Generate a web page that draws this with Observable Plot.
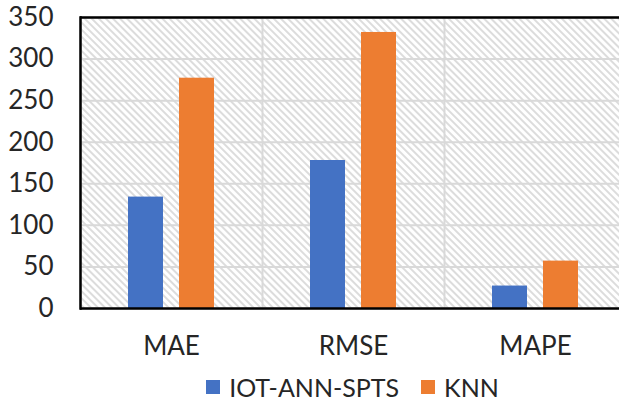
<!DOCTYPE html>
<html>
<head>
<meta charset="utf-8">
<script src="https://cdn.jsdelivr.net/npm/d3@7"></script>
<script src="https://cdn.jsdelivr.net/npm/@observablehq/plot@0.6"></script>
<style>
  html, body { margin: 0; padding: 0; background: #fff; overflow: hidden; }
  #chart { width: 626px; }
  #legend { width: 626px; box-sizing: border-box; padding-left: 79px; display: flex; justify-content: center; }
  #legend span { margin-right: 22px !important; }
  #legend span:last-child { margin-right: 0 !important; }
  #legend span > svg { margin-right: 9px !important; }
</style>
</head>
<body>
<div id="chart"></div>
<div id="legend"></div>
<script>
const categories = ["MAE", "RMSE", "MAPE"];
const seriesNames = ["IOT-ANN-SPTS", "KNN"];
const iotAnnSpts = [134, 178, 27];
const knn = [277, 332, 57];
const yTicks = [0, 50, 100, 150, 200, 250, 300, 350];
const colors = ["#4472C4", "#ED7D31"];

const data = [];
categories.forEach((c, i) => {
  data.push({category: c, series: seriesNames[0], value: iotAnnSpts[i]});
  data.push({category: c, series: seriesNames[1], value: knn[i]});
});

const font = "Lato, 'Open Sans', sans-serif";

const plot = Plot.plot({
  width: 626,
  height: 370,
  marginLeft: 79,
  marginRight: 0,
  marginTop: 17,
  marginBottom: 62,
  style: {fontFamily: font, fontSize: "26px", color: "#262626", background: "#fff"},
  fx: {domain: categories, padding: 0, label: null},
  x: {domain: seriesNames, paddingInner: 0.314, paddingOuter: 0.94, axis: null},
  y: {domain: [0, 350], label: null},
  color: {domain: seriesNames, range: colors},
  marks: [
    Plot.frame({fill: "url(#hatch)", stroke: "none"}),
    Plot.gridY(yTicks, {stroke: "#d9d9d9", strokeOpacity: 1, strokeWidth: 2}),
    Plot.frame({anchor: "left", stroke: "#d9d9d9", strokeWidth: 2}),
    Plot.barY(data, {fx: "category", x: "series", y: "value", fill: "series"}),
    Plot.frame({anchor: "left", facetAnchor: "left", stroke: "#000", strokeWidth: 2.5}),
    Plot.ruleY([0], {stroke: "#000", strokeWidth: 2.5}),
    Plot.ruleY([350], {stroke: "#000", strokeWidth: 2.5}),
    Plot.axisY(yTicks, {tickSize: 0, tickPadding: 27, fontSize: 26, fill: "#262626"}),
    Plot.axisFx({anchor: "bottom", tickSize: 0, tickPadding: 28, fontSize: 26, fill: "#262626", label: null})
  ]
});

const svg = d3.select(plot);
const defs = svg.insert("defs", ":first-child");
const pat = defs.append("pattern")
  .attr("id", "hatch")
  .attr("patternUnits", "userSpaceOnUse")
  .attr("width", 5).attr("height", 5)
  .attr("patternTransform", "rotate(-45)");
pat.append("rect").attr("width", 5).attr("height", 5).attr("fill", "#fff");
pat.append("line").attr("x1", 1).attr("y1", 0).attr("x2", 1).attr("y2", 5)
  .attr("stroke", "#dcdcdc").attr("stroke-width", 2);

document.getElementById("chart").appendChild(plot);

const legend = Plot.legend({
  color: {domain: seriesNames, range: colors},
  swatchSize: 14,
  style: {fontFamily: font, fontSize: "25px", color: "#262626", marginLeft: "0px"}
});
document.getElementById("legend").appendChild(legend);
</script>
</body>
</html>
